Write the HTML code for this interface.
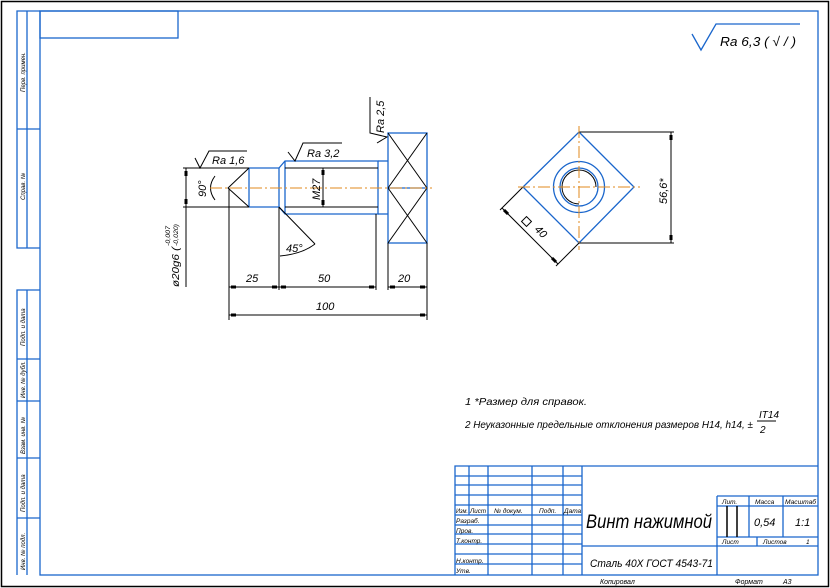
<!DOCTYPE html>
<html><head><meta charset="utf-8"><style>
html,body{margin:0;padding:0;background:#fff}
svg{display:block}
text{font-family:"Liberation Sans","DejaVu Sans",sans-serif;font-style:italic;fill:#000}
</style></head><body>
<svg width="830" height="588" viewBox="0 0 830 588" xmlns="http://www.w3.org/2000/svg">
<rect x="1.5" y="1.5" width="827" height="585" fill="none" stroke="#000" stroke-width="1.5"/>
<g stroke="#1a66cc" stroke-width="1.3" fill="none">
<rect x="40" y="11" width="778" height="564"/>
<rect x="40" y="11" width="138" height="27"/>
<polyline points="40,11 17,11 17,248 40,248"/>
<line x1="27" y1="11" x2="27" y2="248"/>
<line x1="17" y1="129" x2="40" y2="129"/>
<polyline points="40,290 17,290 17,575"/>
<line x1="27" y1="290" x2="27" y2="575"/>
<line x1="17" y1="359" x2="40" y2="359"/>
<line x1="17" y1="401" x2="40" y2="401"/>
<line x1="17" y1="458" x2="40" y2="458"/>
<line x1="17" y1="518" x2="40" y2="518"/>
<polyline points="455,575 455,466 818,466"/>
<line x1="582" y1="466" x2="582" y2="575"/>
<line x1="469" y1="466" x2="469" y2="515"/>
<line x1="488" y1="466" x2="488" y2="575"/>
<line x1="532" y1="466" x2="532" y2="575"/>
<line x1="563" y1="466" x2="563" y2="575"/>
<line x1="455" y1="476" x2="582" y2="476"/>
<line x1="455" y1="485" x2="582" y2="485"/>
<line x1="455" y1="495" x2="582" y2="495"/>
<line x1="455" y1="505" x2="582" y2="505"/>
<line x1="455" y1="515" x2="582" y2="515"/>
<line x1="455" y1="525" x2="582" y2="525"/>
<line x1="455" y1="534" x2="582" y2="534"/>
<line x1="455" y1="544" x2="582" y2="544"/>
<line x1="455" y1="554" x2="582" y2="554"/>
<line x1="455" y1="564" x2="582" y2="564"/>
<line x1="582" y1="546" x2="818" y2="546"/>
<line x1="717" y1="496" x2="717" y2="575"/>
<line x1="717" y1="496" x2="818" y2="496"/>
<line x1="717" y1="506" x2="818" y2="506"/>
<line x1="717" y1="537" x2="818" y2="537"/>
<line x1="749" y1="496" x2="749" y2="537"/>
<line x1="783" y1="496" x2="783" y2="537"/>
<line x1="757" y1="537" x2="757" y2="546"/>
<polyline points="692,34 701,50 716,24 800,24"/>
<line x1="249" y1="168" x2="279" y2="168"/>
<line x1="249" y1="207" x2="279" y2="207"/>
<line x1="249" y1="168" x2="249" y2="207"/>
<line x1="279" y1="168" x2="279" y2="207"/>
<polyline points="279,168 285,161 378,161 378,214 285,214 279,207"/>
<line x1="285" y1="161" x2="285" y2="214"/>
<line x1="378" y1="161" x2="388" y2="161"/>
<line x1="378" y1="214" x2="388" y2="214"/>
<rect x="388" y="133" width="39" height="110"/>
<line x1="388" y1="188" x2="427" y2="188"/>
<polygon points="579,132 634,187 579,243 523,187"/>
<circle cx="579" cy="187" r="25.5"/>
<circle cx="579" cy="187" r="19"/>
</g>
<g stroke="#000" stroke-width="1" fill="none">
<line x1="727" y1="506" x2="727" y2="537" stroke-width="1.5"/>
<line x1="737" y1="506" x2="737" y2="537" stroke-width="1.5"/>
<polyline points="249,168 228,188 249,207"/>
<line x1="183" y1="168" x2="249" y2="168"/>
<line x1="183" y1="207" x2="249" y2="207"/>
<line x1="186" y1="168" x2="186" y2="287"/>
<path d="M215,176 Q206,188 215,200"/>
<line x1="285" y1="168" x2="378" y2="168"/>
<line x1="285" y1="207" x2="378" y2="207"/>
<line x1="323" y1="168" x2="323" y2="207"/>
<line x1="388" y1="133" x2="427" y2="188"/><line x1="427" y1="133" x2="388" y2="188"/>
<line x1="388" y1="188" x2="427" y2="243"/><line x1="427" y1="188" x2="388" y2="243"/>
<line x1="229" y1="188" x2="229" y2="320"/>
<line x1="279" y1="207" x2="279" y2="290"/>
<line x1="376" y1="214" x2="376" y2="290"/>
<line x1="388" y1="243" x2="388" y2="290"/>
<line x1="427" y1="243" x2="427" y2="320"/>
<line x1="229" y1="287" x2="279" y2="287"/>
<line x1="279" y1="287" x2="376" y2="287"/>
<line x1="388" y1="287" x2="427" y2="287"/>
<line x1="229" y1="315" x2="427" y2="315"/>
<line x1="279" y1="207" x2="315" y2="244"/>
<path d="M280,256 Q302,254 315,244"/>
<polyline points="195,158 200,168 209,151 247,151"/>
<polyline points="288,152 295,161 303,143 342,143"/>
<polyline points="377,143 387,137 370,133 370,97"/>
<path d="M596,187 A17,17 0 1 0 579,204"/>
<line x1="579" y1="132" x2="674" y2="132"/>
<line x1="579" y1="243" x2="674" y2="243"/>
<line x1="671" y1="132" x2="671" y2="243"/>
<line x1="523" y1="187" x2="500" y2="210"/>
<line x1="579" y1="243" x2="556" y2="266"/>
<line x1="502" y1="208" x2="558" y2="264"/>
<rect x="523" y="218" width="7" height="7" transform="rotate(45 526.5 221.5)"/>
<line x1="757" y1="421" x2="776" y2="421"/>
</g>
<g stroke="#000" stroke-width="3">
<line x1="186" y1="171" x2="186" y2="176"/><line x1="186" y1="199" x2="186" y2="204"/>
<line x1="323" y1="170" x2="323" y2="175"/><line x1="323" y1="200" x2="323" y2="205"/>
<line x1="231" y1="287" x2="236" y2="287"/><line x1="272" y1="287" x2="277" y2="287"/>
<line x1="281" y1="287" x2="286" y2="287"/><line x1="369" y1="287" x2="374" y2="287"/>
<line x1="390" y1="287" x2="395" y2="287"/><line x1="420" y1="287" x2="425" y2="287"/>
<line x1="231" y1="315" x2="236" y2="315"/><line x1="420" y1="315" x2="425" y2="315"/>
<line x1="671" y1="135" x2="671" y2="140"/><line x1="671" y1="235" x2="671" y2="240"/>
<line x1="504" y1="210" x2="508" y2="214"/><line x1="552" y1="258" x2="556" y2="262"/>
</g>
<g stroke="#e08a1e" stroke-width="1" stroke-dasharray="12,3,2,3" fill="none">
<line x1="210" y1="188" x2="432" y2="188"/>
<line x1="518" y1="187" x2="640" y2="187"/>
<line x1="579" y1="126" x2="579" y2="250"/>
</g>
<text x="720" y="46" font-size="13" textLength="76" lengthAdjust="spacingAndGlyphs">Ra 6,3 ( √ / )</text>
<text x="212" y="164" font-size="11">Ra 1,6</text>
<text x="307" y="157" font-size="11">Ra 3,2</text>
<text transform="translate(384,133) rotate(-90)" font-size="11">Ra 2,5</text>
<text transform="translate(206,197) rotate(-90)" font-size="11">90°</text>
<text transform="translate(320,200) rotate(-90)" font-size="11">M27</text>
<text x="286" y="252" font-size="11">45°</text>
<text x="246" y="282" font-size="11">25</text>
<text x="318" y="282" font-size="11">50</text>
<text x="398" y="282" font-size="11">20</text>
<text x="316" y="310" font-size="11">100</text>
<text transform="translate(179,287) rotate(-90)" font-size="10" textLength="40" lengthAdjust="spacingAndGlyphs">ø20g6 (</text>
<text transform="translate(170,246) rotate(-90)" font-size="6.5" textLength="20" lengthAdjust="spacingAndGlyphs">-0,007</text>
<text transform="translate(178,246) rotate(-90)" font-size="6.5" textLength="22" lengthAdjust="spacingAndGlyphs">-0,020)</text>
<text transform="translate(667,204) rotate(-90)" font-size="11">56,6*</text>
<text transform="translate(534,230) rotate(45)" font-size="11">40</text>
<text x="465" y="405" font-size="10.5" textLength="122" lengthAdjust="spacingAndGlyphs">1 *Размер для справок.</text>
<text x="465" y="428" font-size="10.5" textLength="288" lengthAdjust="spacingAndGlyphs">2 Неуказонные предельные отклонения размеров H14, h14, ±</text>
<text x="759" y="418" font-size="10">IT14</text>
<text x="760" y="433" font-size="10">2</text>
<g font-size="6.5">
<text x="456" y="513" textLength="12" lengthAdjust="spacingAndGlyphs">Изм.</text><text x="470" y="513" textLength="16" lengthAdjust="spacingAndGlyphs">Лист</text><text x="494" y="513">№ докум.</text><text x="539" y="513">Подп.</text><text x="564" y="513">Дата</text>
<text x="456" y="523">Разраб.</text><text x="456" y="533">Пров.</text><text x="456" y="543">Т.контр.</text><text x="456" y="563">Н.контр.</text><text x="456" y="573">Утв.</text>
<text x="722" y="504">Лит.</text><text x="755" y="504">Масса</text><text x="785" y="504" textLength="31" lengthAdjust="spacingAndGlyphs">Масштаб</text>
<text x="722" y="544">Лист</text><text x="763" y="544">Листов</text><text x="806" y="544">1</text>
</g>
<text x="586" y="528" font-size="19" textLength="126" lengthAdjust="spacingAndGlyphs">Винт нажимной</text>
<text x="590" y="567" font-size="11" textLength="123" lengthAdjust="spacingAndGlyphs">Сталь 40Х  ГОСТ 4543-71</text>
<text x="754" y="526" font-size="11">0,54</text>
<text x="795" y="526" font-size="11">1:1</text>
<text x="600" y="584" font-size="7">Копировал</text>
<text x="735" y="584" font-size="7">Формат</text>
<text x="783" y="584" font-size="7">A3</text>
<g font-size="6">
<text transform="translate(25,92) rotate(-90)">Перв. примен.</text>
<text transform="translate(25,200) rotate(-90)">Справ. №</text>
<text transform="translate(25,346) rotate(-90)">Подп. и дата</text>
<text transform="translate(25,398) rotate(-90)">Инв. № дубл.</text>
<text transform="translate(25,454) rotate(-90)">Взам. инв. №</text>
<text transform="translate(25,512) rotate(-90)">Подп. и дата</text>
<text transform="translate(25,570) rotate(-90)">Инв. № подл.</text>
</g>
</svg>
</body></html>
